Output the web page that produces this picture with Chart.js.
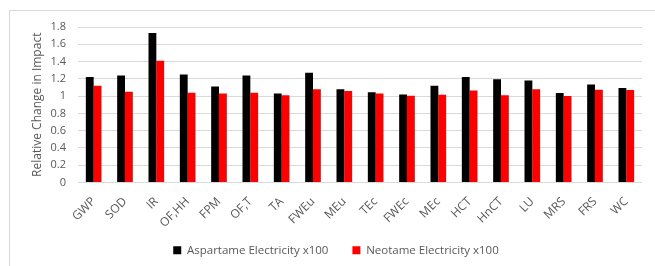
<!DOCTYPE html>
<html><head><meta charset="utf-8">
<script src="https://cdn.jsdelivr.net/npm/chart.js@4/dist/chart.umd.min.js"></script>
<style>
html,body{margin:0;padding:0;background:#fff;}
#wrap{position:relative;width:655px;height:266px;overflow:hidden;}
#frame{position:absolute;left:9px;top:10px;width:660px;height:270px;border:1px solid #d9d9d9;box-sizing:border-box;}
canvas{position:absolute;left:0;top:0;}
</style></head>
<body>
<div id="wrap"><div id="frame"></div><canvas id="c" width="655" height="266"></canvas></div>
<script>
const categories = ["GWP","SOD","IR","OF,HH","FPM","OF,T","TA","FWEu","MEu","TEc","FWEc","MEc","HCT","HnCT","LU","MRS","FRS","WC"];
const aspartame = [1.22,1.24,1.73,1.25,1.11,1.24,1.03,1.27,1.08,1.045,1.02,1.12,1.22,1.195,1.18,1.035,1.135,1.095];
const neotame = [1.12,1.05,1.41,1.04,1.03,1.04,1.01,1.08,1.06,1.03,1.005,1.015,1.065,1.01,1.08,1.0,1.075,1.07];
const seriesNames = ["Aspartame Electricity x100","Neotame Electricity x100"];
const yAxisTitle = "Relative Change in Impact";

const font = "'Open Sans', 'Liberation Sans', sans-serif";
const grey = '#595959';
new Chart(document.getElementById('c'), {
  type: 'bar',
  data: {
    labels: categories,
    datasets: [
      {label: seriesNames[0], data: aspartame, backgroundColor: '#000000', borderWidth: 0},
      {label: seriesNames[1], data: neotame, backgroundColor: '#ff0000', borderWidth: 0}
    ]
  },
  options: {
    responsive: false,
    animation: false,
    layout: {padding: {top: 27, right: 13, bottom: 0, left: 30}},
    datasets: {bar: {barPercentage: 1.0, categoryPercentage: 0.5}},
    plugins: {
      legend: {
        position: 'bottom',
        labels: {font: {family: font, size: 11.5}, color: grey, boxWidth: 8, boxHeight: 8, padding: 24}
      },
      tooltip: {enabled: false}
    },
    scales: {
      x: {
        grid: {display: false},
        border: {display: false},
        ticks: {font: {family: font, size: 12}, color: grey, maxRotation: 45, minRotation: 45, padding: 4, autoSkip: false},
        afterFit: s => { s.height = 38; s._computeLabelArea = () => undefined; }
      },
      y: {
        min: 0, max: 1.8,
        grid: {color: '#d9d9d9', lineWidth: 1, drawTicks: false},
        border: {display: false},
        ticks: {font: {family: font, size: 11}, color: grey, padding: 12, stepSize: 0.2, autoSkip: false,
                callback: v => Math.round(v * 10) / 10},
        title: {display: true, text: yAxisTitle, font: {family: font, size: 12}, color: grey, padding: 0},
        afterFit: s => { s.width = 48; }
      }
    }
  }
});
</script>
</body></html>
